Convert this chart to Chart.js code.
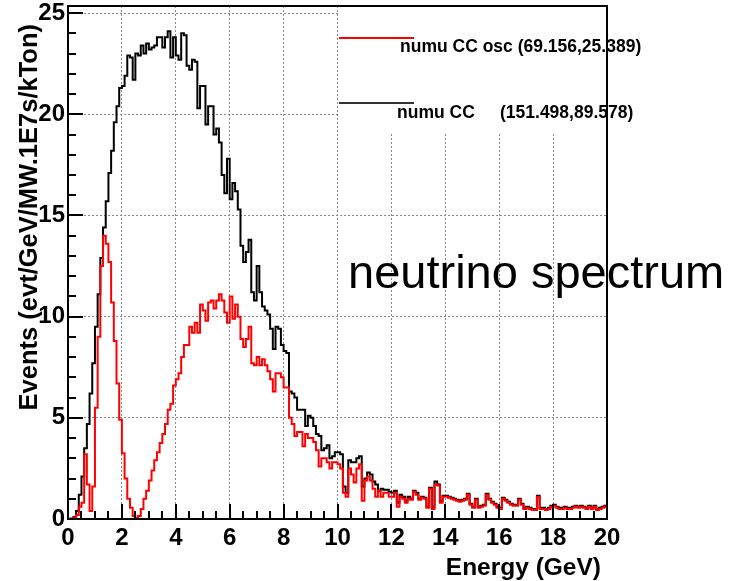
<!DOCTYPE html>
<html>
<head>
<meta charset="utf-8">
<style>
  html, body { margin: 0; padding: 0; background: #fff; }
  #wrap { width: 744px; height: 581px; }
</style>
<script src="https://cdn.jsdelivr.net/npm/chart.js@4.4.1/dist/chart.umd.min.js"></script>
</head>
<body>
<div id="wrap"><canvas id="c" width="744" height="581"></canvas></div>
<script>
// 200 bins of 0.1 GeV, 0..20 GeV
const binWidth = 0.1;

const numuCC = [
  0, 0.02, 0.1, 0.4, 1.2, 2.1, 3.5, 4.7, 6.2, 7.7,
  9.5, 11.1, 12.9, 14.4, 15.7, 17.1, 18.2, 19.6, 20.4, 21.3,
  21.4, 21.9, 22.9, 22.8, 21.7, 23.0, 22.9, 23.4, 23.0, 23.5,
  23.2, 23.3, 23.4, 23.8, 23.8, 23.3, 23.8, 24.1, 22.8, 23.8,
  22.9, 22.7, 24.0, 23.9, 22.4, 22.2, 22.7, 22.6, 20.3, 21.4,
  21.4, 19.5, 20.4, 20.4, 19.0, 19.3, 18.6, 17.0, 16.1, 17.8,
  15.8, 16.6, 16.2, 15.3, 13.5, 12.7, 13.2, 13.8, 11.2, 10.8,
  12.5, 11.2, 10.5, 10.3, 10.1, 9.4, 8.4, 9.5, 9.4, 8.6,
  8.3, 8.2, 6.3, 6.2, 6.0, 5.4, 5.4, 5.4, 4.6, 5.1,
  5.0, 4.6, 4.2, 4.1, 3.4, 3.5, 3.65, 3.0, 3.1, 3.3,
  3.3, 3.2, 1.6, 1.3, 2.9, 2.8, 2.8, 3.0, 3.1, 1.6,
  2.0, 2.3, 2.2, 1.85, 1.7, 1.4, 1.5, 1.45, 1.45, 1.35,
  1.3, 1.4, 0.8, 1.2, 1.1, 0.9, 1.1, 1.0, 1.4, 1.3,
  1.0, 1.1, 1.05, 0.6, 1.55, 0.6, 1.85, 1.7, 0.9, 1.15,
  1.15, 1.1, 1.05, 1.0, 0.95, 0.9, 0.95, 1.0, 1.25, 0.75,
  0.6, 1.0, 0.6, 0.65, 0.7, 1.25, 1.0, 0.85, 0.75, 0.6,
  0.55, 1.05, 0.95, 0.85, 0.75, 0.7, 0.7, 1.0, 0.75, 0.55,
  0.6, 0.55, 0.5, 0.5, 1.15, 0.55, 0.55, 0.5, 0.55, 0.65,
  0.7, 0.6, 0.55, 0.55, 0.6, 0.55, 0.55, 0.6, 0.65, 0.6,
  0.65, 0.6, 0.55, 0.65, 0.55, 0.65, 0.5, 0.55, 0.6, 0.65
];

const numuCCosc = [
  0, 0, 0.05, 0.2, 0.6, 0.8, 3.2, 1.7, 0.4, 1.6,
  5.5, 9.0, 12.5, 14.0, 13.6, 12.7, 10.7, 8.8, 6.7, 4.9,
  3.25, 2.0, 1.0, 0.55, 0.15, 0.05, 0.15, 0.5, 1.0, 1.4,
  1.9, 2.4, 2.9, 3.3, 3.75, 4.2, 4.7, 5.4, 5.7, 6.6,
  6.9, 7.2, 8.0, 8.6, 8.6, 9.5, 9.2, 9.7, 9.2, 10.6,
  10.3, 9.8, 10.7, 10.8, 10.4, 10.8, 11.1, 10.8, 10.2, 9.7,
  11.0, 9.9, 10.6, 10.0, 8.9, 8.5, 8.9, 9.5, 7.7, 7.6,
  8.0, 7.6, 7.9, 7.6, 7.3, 6.9, 6.3, 7.2, 7.2, 7.0,
  6.5, 6.5, 5.0, 4.7, 4.1, 4.3, 4.3, 3.6, 4.2, 4.0,
  4.0, 3.8, 3.4, 2.6, 3.0, 3.0, 2.8, 2.5, 2.8, 2.8,
  2.7, 2.5, 1.3, 1.1, 2.5, 2.2, 1.8, 2.5, 2.7, 0.9,
  1.9, 2.1, 1.9, 1.5, 1.1, 1.4, 1.1, 1.3, 1.3, 1.1,
  1.1, 1.3, 0.6, 1.1, 1.0, 0.8, 1.0, 0.95, 1.35, 1.2,
  0.95, 1.05, 1.0, 0.55, 1.5, 0.5, 1.7, 1.65, 0.8, 1.1,
  1.1, 1.05, 1.0, 0.95, 0.9, 0.85, 0.9, 0.95, 1.2, 0.7,
  0.55, 0.95, 0.55, 0.6, 0.65, 1.2, 0.95, 0.8, 0.7, 0.55,
  0.5, 1.0, 0.9, 0.8, 0.7, 0.65, 0.65, 0.95, 0.7, 0.5,
  0.55, 0.5, 0.45, 0.45, 1.1, 0.5, 0.5, 0.45, 0.5, 0.6,
  0.65, 0.55, 0.5, 0.5, 0.55, 0.5, 0.5, 0.55, 0.6, 0.55,
  0.6, 0.55, 0.5, 0.6, 0.5, 0.6, 0.45, 0.5, 0.55, 0.6
];

const legendLabels = ['numu CC osc', 'numu CC'];
const legendStats = ['(69.156,25.389)', '(151.498,89.578)'];
const xTitle = 'Energy (GeV)';
const yTitle = 'Events (evt/GeV/MW.1E7s/kTon)';
const overlayText = 'neutrino spectrum';

const FAMILY = "'Liberation Sans', Arial, Helvetica, sans-serif";

// two points per bin so the outline is a histogram step
function histPoints(values) {
  const pts = [];
  values.forEach((v, i) => {
    pts.push({ x: i * binWidth, y: v });
    pts.push({ x: (i + 1) * binWidth, y: v });
  });
  return pts;
}

const rootFrame = {
  id: 'rootFrame',
  afterDatasetsDraw(chart) {
    const { ctx, chartArea: a, scales: { x } } = chart;
    const lx = x.getPixelForValue(10) + 1;

    ctx.save();
    ctx.fillStyle = '#fff';
    ctx.fillRect(lx, a.top, a.right - lx, 126);

    ctx.lineWidth = 2;
    ctx.strokeStyle = '#ff0000';
    ctx.beginPath(); ctx.moveTo(339, 38); ctx.lineTo(414, 38); ctx.stroke();
    ctx.strokeStyle = '#333';
    ctx.beginPath(); ctx.moveTo(339, 103); ctx.lineTo(414, 103); ctx.stroke();

    ctx.fillStyle = '#000';
    ctx.font = 'bold 17.5px ' + FAMILY;
    ctx.textBaseline = 'alphabetic';
    ctx.textAlign = 'left';
    ctx.fillText(legendLabels[0] + ' ' + legendStats[0], 400, 52);
    ctx.fillText(legendLabels[1], 397, 118);
    ctx.fillText(legendStats[1], 500, 118);
    ctx.restore();
  },
  afterDraw(chart) {
    const { ctx, chartArea: a, scales: { x, y } } = chart;
    ctx.save();
    ctx.setLineDash([]);
    ctx.strokeStyle = '#000';
    ctx.lineWidth = 2;
    ctx.beginPath();
    for (let k = 1; k < 40; k++) {
      const px = Math.round(x.getPixelForValue(k * 0.5));
      const len = k % 4 === 0 ? 15 : 8;
      ctx.moveTo(px, a.bottom);
      ctx.lineTo(px, a.bottom - len);
    }
    for (let v = 1; v <= 25; v++) {
      const py = Math.round(y.getPixelForValue(v));
      const len = v % 5 === 0 ? 15 : 8;
      ctx.moveTo(a.left, py);
      ctx.lineTo(a.left + len, py);
    }
    ctx.stroke();

    ctx.strokeRect(a.left, a.top, a.right - a.left, a.bottom - a.top);

    ctx.fillStyle = '#000';
    ctx.font = 'bold 25.5px ' + FAMILY;
    ctx.translate(37, 24);
    ctx.rotate(-Math.PI / 2);
    ctx.textAlign = 'right';
    ctx.textBaseline = 'alphabetic';
    ctx.fillText(yTitle, 0, 0);
    ctx.setTransform(1, 0, 0, 1, 0, 0);

    ctx.font = 'bold 24.5px ' + FAMILY;
    ctx.textAlign = 'right';
    ctx.fillText(xTitle, 601, 575);

    ctx.font = '47px ' + FAMILY;
    ctx.textAlign = 'left';
    ctx.fillText(overlayText, 348, 288);
    ctx.restore();
  }
};

const tickFont = { family: FAMILY, size: 24, weight: 'bold' };

new Chart(document.getElementById('c'), {
  type: 'line',
  data: {
    datasets: [
      { label: legendLabels[0], data: histPoints(numuCCosc), borderColor: '#ff0000', borderWidth: 2, pointRadius: 0, tension: 0, fill: false },
      { label: legendLabels[1], data: histPoints(numuCC), borderColor: '#000', borderWidth: 2, pointRadius: 0, tension: 0, fill: false }
    ]
  },
  options: {
    responsive: false,
    animation: false,
    layout: { padding: { top: 6, right: 137, left: 0, bottom: 0 } },
    plugins: { legend: { display: false }, tooltip: { enabled: false } },
    scales: {
      x: {
        type: 'linear', min: 0, max: 20,
        ticks: { stepSize: 2, color: '#000', font: tickFont, padding: 5, maxRotation: 0, autoSkip: false },
        grid: {
          color: c => (c.tick && c.tick.value > 0 && c.tick.value < 20) ? '#8a8a8a' : 'rgba(0,0,0,0)',
          lineWidth: 1, drawTicks: false
        },
        border: { display: false, dash: [2, 2] },
        afterFit: s => { s.height = 62; s.paddingLeft = 0; s.paddingRight = 0; }
      },
      y: {
        min: 0, max: 25.35,
        afterBuildTicks: s => { s.ticks = s.ticks.filter(t => Math.abs(t.value % 5) < 1e-6); },
        ticks: { stepSize: 5, includeBounds: false, color: '#000', font: tickFont, padding: 3 },
        grid: {
          color: c => (c.tick && c.tick.value > 0) ? '#8a8a8a' : 'rgba(0,0,0,0)',
          lineWidth: 1, drawTicks: false
        },
        border: { display: false, dash: [2, 2] },
        afterFit: s => { s.width = 68; s.paddingTop = 0; s.paddingBottom = 0; }
      }
    }
  },
  plugins: [rootFrame]
});
</script>
</body>
</html>
